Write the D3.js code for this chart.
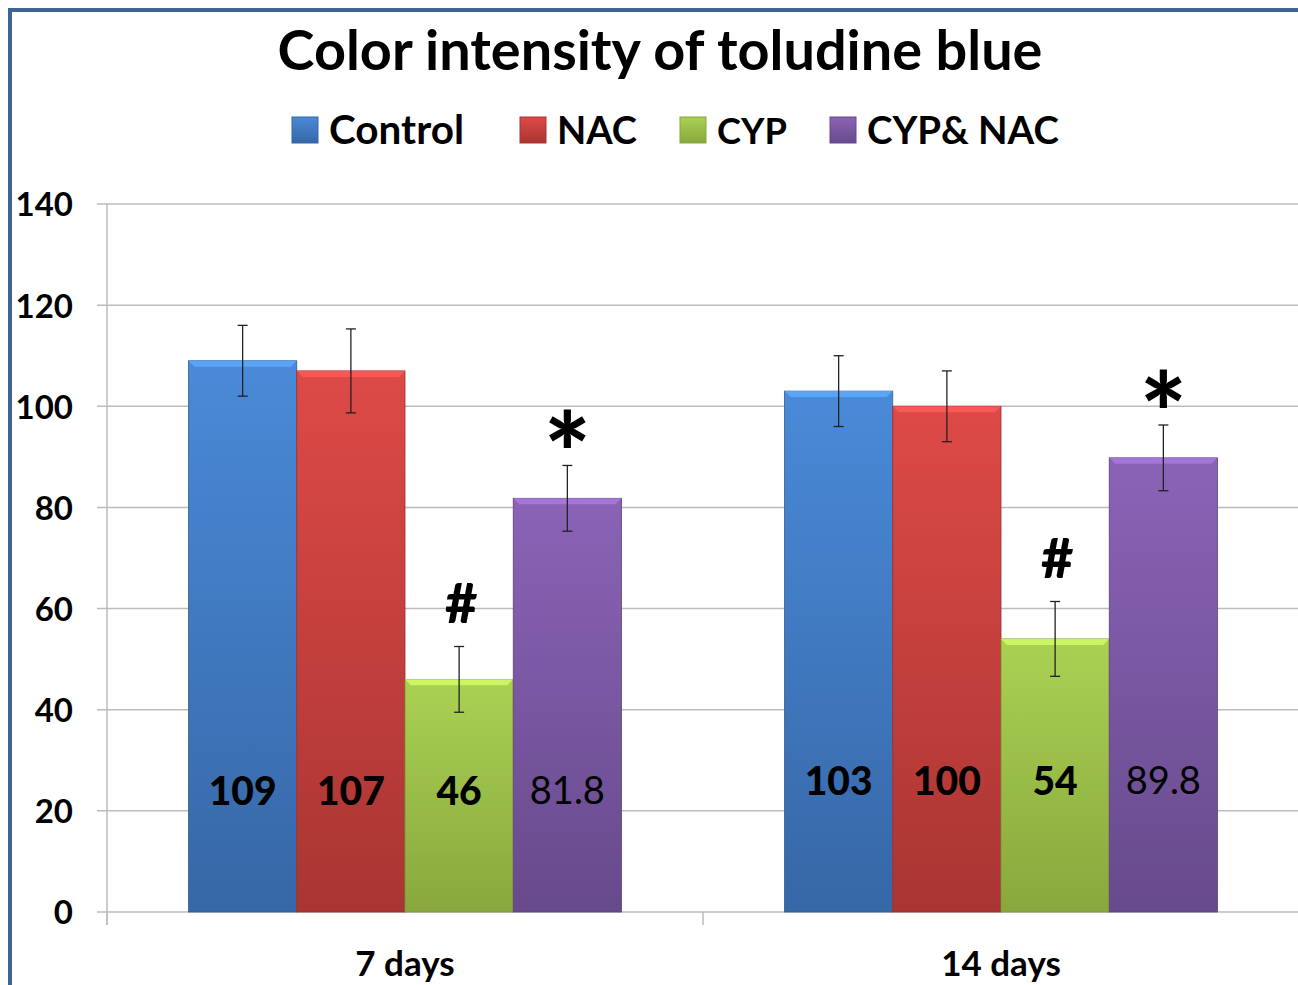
<!DOCTYPE html>
<html lang="en">
<head>
<meta charset="utf-8">
<title>Color intensity of toludine blue</title>
<script src="https://cdn.jsdelivr.net/npm/d3@7"></script>
<style>
body{margin:0;background:#fff;}
svg text{font-family:Lato,"Open Sans",sans-serif;fill:#000;}
</style>
</head>
<body>
<div id="chart"></div>
<script>
// data
var groups = ["7 days", "14 days"]
var series = ["Control", "NAC", "CYP", "CYP& NAC"]
var values7 = [109, 107, 46, 81.8]
var values14 = [103, 100, 54, 89.8]
var errors7 = [7, 8.3, 6.5, 6.5]
var errors14 = [7, 7, 7.4, 6.5]
var marks = ["", "", "#", "*"]
var yTicks = [0, 20, 40, 60, 80, 100, 120, 140]

// styles
var topColors = ["#4a8ad8", "#dd4a47", "#aad153", "#8a63b6"]
var botColors = ["#3667a6", "#a93532", "#88a83d", "#674a8c"]
var W = 1298, H = 985

var svg = d3.select("#chart").append("svg")
    .attr("width", W).attr("height", H)

var defs = svg.append("defs")
series.forEach(function(s, i){
    var g = defs.append("linearGradient").attr("id", "grad" + i)
        .attr("x1", 0).attr("y1", 0).attr("x2", 0).attr("y2", 1)
    g.append("stop").attr("offset", "0%").attr("stop-color", topColors[i])
    g.append("stop").attr("offset", "100%").attr("stop-color", botColors[i])
})

// frame
svg.append("rect").attr("x", 10).attr("y", 10).attr("width", W + 20).attr("height", H + 20)
    .attr("fill", "none").attr("stroke", "#3d6494").attr("stroke-width", 4)

// title
var title = svg.append("text").attr("x", 660).attr("y", 70)
    .attr("text-anchor", "middle").attr("font-weight", "bold")
    .attr("font-size", 56).text("Color intensity of toludine blue")
fitWidth(title, 765)

// legend
var legendX = [292, 520, 680, 830]
var legendW = [135, 80, 70, 192]
series.forEach(function(s, i){
    svg.append("rect").attr("x", legendX[i]).attr("y", 117).attr("width", 26).attr("height", 26)
        .attr("fill", "url(#grad" + i + ")").attr("stroke", botColors[i]).attr("stroke-width", 1)
    var t = svg.append("text").attr("x", legendX[i] + 37).attr("y", 144)
        .attr("font-weight", "bold").attr("font-size", 38).text(s)
    fitWidth(t, legendW[i])
})

// scales
var y = d3.scaleLinear().domain([0, 140]).range([912, 204])
var x0 = d3.scaleBand().domain(groups).range([107, 1299])
var x1 = d3.scaleBand().domain(series).range([0, x0.bandwidth()]).paddingOuter(0.753)

// grid lines
svg.append("g").selectAll("line").data(yTicks).enter().append("line")
    .attr("x1", 97).attr("x2", W).attr("y1", function(d){ return y(d) }).attr("y2", function(d){ return y(d) })
    .attr("stroke", "#bcbcbc").attr("stroke-width", 1.5)

// y axis
var yAxis = d3.axisLeft(y).tickValues(yTicks).tickSize(0).tickPadding(24)
var ya = svg.append("g").attr("transform", "translate(97,0)").call(yAxis)
ya.select(".domain").remove()
ya.selectAll("text").attr("font-size", 33).attr("font-weight", "bold")
    .attr("dy", "0.36em").style("font-family", "Lato,sans-serif")
svg.append("line").attr("x1", 107).attr("x2", 107).attr("y1", 204).attr("y2", 925)
    .attr("stroke", "#bcbcbc").attr("stroke-width", 1.5)

// x axis
var xa = svg.append("g").attr("transform", "translate(0,912)")
    .call(d3.axisBottom(x0).tickSize(0).tickPadding(0))
xa.select(".domain").remove()
xa.selectAll("text").attr("font-size", 35).attr("font-weight", "bold")
    .attr("dy", null).attr("y", 64).style("font-family", "Lato,sans-serif")
svg.append("g").selectAll("line").data([107, 107 + x0.bandwidth(), 107 + 2 * x0.bandwidth()]).enter().append("line")
    .attr("x1", function(d){ return d }).attr("x2", function(d){ return d })
    .attr("y1", 912).attr("y2", 925).attr("stroke", "#bcbcbc").attr("stroke-width", 1.5)

// bars
var rows = []
groups.forEach(function(g, gi){
    var vals = gi == 0 ? values7 : values14
    var errs = gi == 0 ? errors7 : errors14
    series.forEach(function(s, i){
        rows.push({group: g, gi: gi, s: s, i: i, v: vals[i], e: errs[i], mark: marks[i]})
    })
})

var bars = svg.append("g").selectAll("g").data(rows).enter().append("g")
    .attr("transform", function(d){ return "translate(" + (x0(d.group) + x1(d.s)) + ",0)" })

bars.append("rect")
    .attr("x", 0).attr("width", x1.bandwidth())
    .attr("y", function(d){ return y(d.v) })
    .attr("height", function(d){ return y(0) - y(d.v) })
    .attr("fill", function(d){ return "url(#grad" + d.i + ")" })
    .attr("stroke", function(d){ return d3.color(botColors[d.i]).darker(0.3) }).attr("stroke-width", 0.8)

// bevel on top edge
bars.append("path")
    .attr("d", function(d){
        var t = y(d.v), w = x1.bandwidth()
        return "M0," + t + "L" + w + "," + t + "L" + (w - 6) + "," + (t + 6) + "L6," + (t + 6) + "Z"
    })
    .attr("fill", function(d){ return d3.color(topColors[d.i]).brighter(0.6) })
    .attr("opacity", 0.8)

// error bars
var cx = x1.bandwidth() / 2
bars.append("line")
    .attr("x1", cx).attr("x2", cx)
    .attr("y1", function(d){ return y(d.v + d.e) }).attr("y2", function(d){ return y(d.v - d.e) })
    .attr("stroke", "#222").attr("stroke-width", 1.3)
bars.selectAll(".cap").data(function(d){ return [d.v + d.e, d.v - d.e] }).enter().append("line")
    .attr("class", "cap")
    .attr("x1", cx - 5).attr("x2", cx + 5)
    .attr("y1", function(v){ return y(v) }).attr("y2", function(v){ return y(v) })
    .attr("stroke", "#222").attr("stroke-width", 1.3)

// value labels
bars.append("text")
    .attr("x", cx)
    .attr("y", function(d){ return y(d.gi == 0 ? 24 : 26) })
    .attr("dy", "0.36em")
    .attr("text-anchor", "middle")
    .attr("font-size", function(d){ return d.i == 3 ? 38 : 39 })
    .attr("font-weight", function(d){ return d.i == 3 ? "normal" : "900" })
    .text(function(d){ return d.v })

// significance marks, a fixed gap above the error bar
bars.filter(function(d){ return d.mark != "" }).append("text")
    .attr("x", function(d){ return d.mark == "#" ? cx + 2 : cx })
    .attr("y", 0)
    .attr("text-anchor", "middle")
    .attr("font-weight", "900")
    .attr("font-size", function(d){ return d.mark == "#" ? 56 : 110 })
    .text(function(d){ return d.mark })
    .each(function(d){
        var b = this.getBBox()
        var mid = b.y + b.height / 2
        var gap = d.mark == "#" ? 45 : 14
        d3.select(this).attr("y", y(d.v + d.e) - gap - mid)
    })

function fitWidth(t, target){
    var w = t.node().getComputedTextLength()
    var fs = +t.attr("font-size")
    t.attr("font-size", fs * target / w)
}
</script>
</body>
</html>
